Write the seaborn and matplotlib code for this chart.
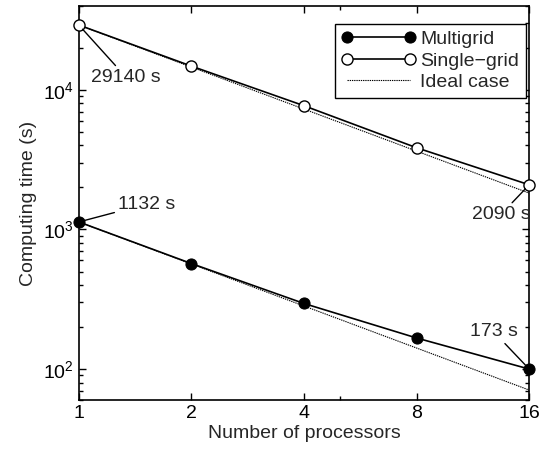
import matplotlib
matplotlib.use("Agg")
import matplotlib.pyplot as plt
import matplotlib.ticker as mticker
import pandas as pd
import seaborn as sns

# data
processors = [1, 2, 4, 8, 16]
multigrid = [1132, 570, 295, 167, 100]
singlegrid = [29140, 14800, 7700, 3850, 2090]
ideal_multi = [1132 / p for p in processors]
ideal_single = [29140 / p for p in processors]

sns.set_style("ticks")
plt.rcParams["font.family"] = ["Liberation Sans", "DejaVu Sans"]
plt.rcParams["font.size"] = 14

fig = plt.figure(figsize=(5.4, 4.5), dpi=100)
ax = fig.add_axes([0.146, 0.111, 0.834, 0.876])

df_multi = pd.DataFrame({"p": processors, "t": multigrid})
df_single = pd.DataFrame({"p": processors, "t": singlegrid})

sns.lineplot(data=df_multi, x="p", y="t", ax=ax, color="black", lw=1.2,
             marker="o", markersize=8, markerfacecolor="black",
             markeredgecolor="black", label="Multigrid", zorder=3, clip_on=False)
sns.lineplot(data=df_single, x="p", y="t", ax=ax, color="black", lw=1.2,
             marker="o", markersize=8, markerfacecolor="white",
             markeredgecolor="black", markeredgewidth=1, label="Single\u2212grid",
             zorder=3, clip_on=False)
sns.lineplot(x=processors, y=ideal_multi, ax=ax, color="black", lw=0.8,
             linestyle=(0, (1.2, 0.8)), label="Ideal case", zorder=2)
sns.lineplot(x=processors, y=ideal_single, ax=ax, color="black", lw=0.8,
             linestyle=(0, (1.2, 0.8)), zorder=2)

ax.set_xscale("log", base=2)
ax.set_yscale("log")
ax.set_xlim(1, 16)
ax.set_ylim(60, 40000)
ax.xaxis.set_major_locator(mticker.FixedLocator(processors))
ax.xaxis.set_major_formatter(mticker.FixedFormatter([str(p) for p in processors]))
ax.xaxis.set_minor_locator(mticker.FixedLocator([5]))
ax.xaxis.set_minor_formatter(mticker.NullFormatter())
ax.yaxis.set_major_locator(mticker.FixedLocator([1e2, 1e3, 1e4]))
ax.yaxis.set_minor_locator(mticker.LogLocator(base=10, subs=range(2, 10)))
ax.yaxis.set_minor_formatter(mticker.NullFormatter())

ax.tick_params(which="both", direction="in", top=True, right=True,
               labelsize=14, width=1, colors="black")
ax.tick_params(which="major", length=5)
ax.tick_params(which="minor", length=3)
for s in ax.spines.values():
    s.set_visible(True)
    s.set_linewidth(1.2)
    s.set_color("black")

ax.set_xlabel("Number of processors", fontsize=14, labelpad=2)
ax.set_ylabel("Computing time (s)", fontsize=14, labelpad=4)

arrow = dict(arrowstyle="-", color="black", lw=1, shrinkA=0, shrinkB=4)
ax.annotate("29140 s", xy=(1, 29140), xytext=(1.08, 12300), fontsize=14,
            arrowprops=arrow, ha="left", va="center")
ax.annotate("1132 s", xy=(1, 1132), xytext=(1.27, 1520), fontsize=14,
            arrowprops=arrow, ha="left", va="center")
ax.annotate("2090 s", xy=(16, 2090), xytext=(16.1, 1280), fontsize=14,
            arrowprops=arrow, ha="right", va="center")
ax.annotate("173 s", xy=(16, 100), xytext=(14.9, 185), fontsize=14,
            arrowprops=arrow, ha="right", va="center")

leg = ax.legend(loc="upper right", bbox_to_anchor=(0.993, 0.955), fontsize=14,
                frameon=True, fancybox=False, edgecolor="black", framealpha=1,
                numpoints=2, handlelength=3.8, handletextpad=0.25,
                borderpad=0.35, labelspacing=0.2, borderaxespad=0.0)
leg.get_frame().set_linewidth(1)

fig.savefig("out.png", dpi=100)
